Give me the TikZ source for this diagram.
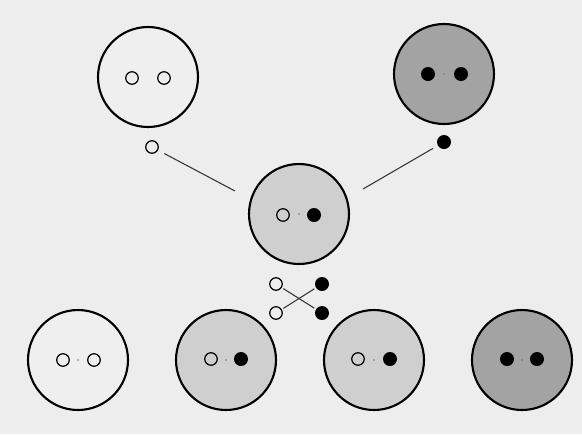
\documentclass[tikz,border=0pt]{standalone}
\usepackage{tikz}
\usetikzlibrary{positioning}
\definecolor{bgpaper}{HTML}{EDEDED}
\definecolor{recfill}{HTML}{EFEFEF}
\definecolor{hybfill}{HTML}{CFCFCF}
\definecolor{domfill}{HTML}{A3A3A3}

\begin{document}
\begin{tikzpicture}[
  x=0.02cm, y=-0.02cm,
  cell/.style={circle, draw, line width=1.2pt,
               minimum size=2cm, inner sep=0pt},
  rcell/.style={cell, fill=recfill},
  hcell/.style={cell, fill=hybfill},
  dcell/.style={cell, fill=domfill},
  ring/.style={circle, draw, line width=0.7pt,
               minimum size=0.25cm, inner sep=0pt},
  blob/.style={circle, fill=black, minimum size=0.28cm, inner sep=0pt},
  speck/.style={circle, fill=black!55, minimum size=1.1pt, inner sep=0pt},
  link/.style={line width=0.6pt, black!80},
]
  % Paper
  \fill[bgpaper] (0,0) rectangle (582,434);

  % Parents
  \node[rcell] (pr) at (148,77) {};
  \node[ring] (pr1) at (132,78) {};
  \node[ring] (pr2) at (164,78) {};

  \node[dcell] (pd) at (444,74) {};
  \node[blob] (pd1) at (428,74) {};
  \node[speck] at (444,74) {};
  \node[blob] (pd2) at (461,74) {};

  % Gametes of the parents
  \node[ring] (gr) at (152,147) {};
  \node[blob] (gd) at (444,142) {};
  \coordinate (el) at (235,191);
  \coordinate (er) at (363,189);
  \draw[link, shorten <=4pt] (gr) -- (el);
  \draw[link, shorten <=3pt] (gd) -- (er);

  % Hybrid
  \node[hcell] (hy) at (299,214) {};
  \node[ring] (hy1) at (283,215) {};
  \node[speck] at (299,214) {};
  \node[blob] (hy2) at (314,215) {};

  % Gametes of the hybrid, crossed
  \node[ring] (xa) at (276,284) {};
  \node[ring] (xb) at (276,313) {};
  \node[blob] (xc) at (322,284) {};
  \node[blob] (xd) at (322,313) {};
  \draw[link, shorten <=1pt, shorten >=1pt] (xa) -- (xd);
  \draw[link, shorten <=1pt, shorten >=1pt] (xb) -- (xc);

  % Offspring
  \node[rcell] (o1) at (78,360) {};
  \node[ring] at (63,360) {};
  \node[speck] at (78,360) {};
  \node[ring] at (94,360) {};

  \node[hcell] (o2) at (226,360) {};
  \node[ring] at (211,359) {};
  \node[speck] at (226,360) {};
  \node[blob] at (241,359) {};

  \node[hcell] (o3) at (374,360) {};
  \node[ring] at (358,359) {};
  \node[speck] at (374,360) {};
  \node[blob] at (390,359) {};

  \node[dcell] (o4) at (522,360) {};
  \node[blob] at (507,359) {};
  \node[speck] at (522,360) {};
  \node[blob] at (537,359) {};

\end{tikzpicture}
\end{document}
